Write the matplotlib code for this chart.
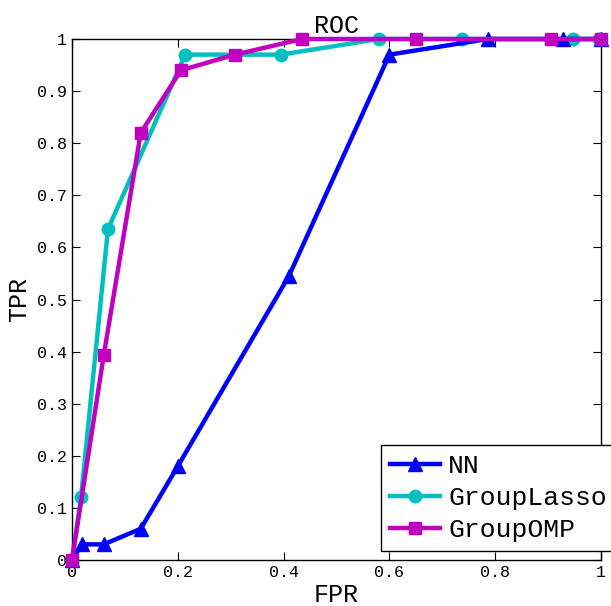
import matplotlib
matplotlib.use('Agg')
import matplotlib.pyplot as plt

plt.rcParams['font.family'] = ['Liberation Mono', 'DejaVu Sans Mono']

nn_fpr = [0, 0.019, 0.06, 0.13, 0.2, 0.41, 0.6, 0.786, 0.928, 1.0]
nn_tpr = [0, 0.03, 0.03, 0.06, 0.18, 0.545, 0.97, 1.0, 1.0, 1.0]

gl_fpr = [0, 0.017, 0.068, 0.214, 0.395, 0.58, 0.737, 0.947, 0.997]
gl_tpr = [0, 0.12, 0.635, 0.97, 0.97, 1.0, 1.0, 1.0, 1.0]

omp_fpr = [0, 0.06, 0.13, 0.206, 0.308, 0.435, 0.65, 0.905, 1.0]
omp_tpr = [0, 0.393, 0.82, 0.94, 0.97, 1.0, 1.0, 1.0, 1.0]

xticks = [0, 0.2, 0.4, 0.6, 0.8, 1]
yticks = [0, 0.1, 0.2, 0.3, 0.4, 0.5, 0.6, 0.7, 0.8, 0.9, 1]

fig = plt.figure(figsize=(6.11, 6.06), dpi=100)
ax = fig.add_axes([72/611, 46/606, 529/611, 521/606])

ax.plot(nn_fpr, nn_tpr, color=(0, 0, 1), lw=3.2, marker='^', ms=10, label='NN', clip_on=False, zorder=3)
ax.plot(gl_fpr, gl_tpr, color=(0, 0.75, 0.75), lw=3.2, marker='o', ms=9, label='GroupLasso', clip_on=False, zorder=2)
ax.plot(omp_fpr, omp_tpr, color=(0.75, 0, 0.75), lw=3.2, marker='s', ms=8, label='GroupOMP', clip_on=False, zorder=4)

ax.set_xlim(0, 1)
ax.set_ylim(0, 1)
ax.set_xticks(xticks)
ax.set_yticks(yticks)
ax.set_xticklabels(['0', '0.2', '0.4', '0.6', '0.8', '1'])
ax.set_yticklabels(['0', '0.1', '0.2', '0.3', '0.4', '0.5', '0.6', '0.7', '0.8', '0.9', '1'])
ax.tick_params(direction='in', top=True, right=True, labelsize=12, length=6, width=0.8)
for s in ax.spines.values():
    s.set_linewidth(1.0)

ax.set_xlabel('FPR', fontsize=18, labelpad=2)
ax.set_ylabel('TPR', fontsize=18, labelpad=4)
ax.set_title('ROC', fontsize=18, pad=4)

leg = ax.legend(loc='upper left', bbox_to_anchor=(381/611, 1 - 445/606), bbox_transform=fig.transFigure,
                fontsize=19, fancybox=False, edgecolor='black', framealpha=1,
                handlelength=1.9, handletextpad=0.3, borderpad=0.35, labelspacing=0.3, borderaxespad=0)
leg.get_frame().set_linewidth(1.0)

fig.savefig('out.png', dpi=100)
